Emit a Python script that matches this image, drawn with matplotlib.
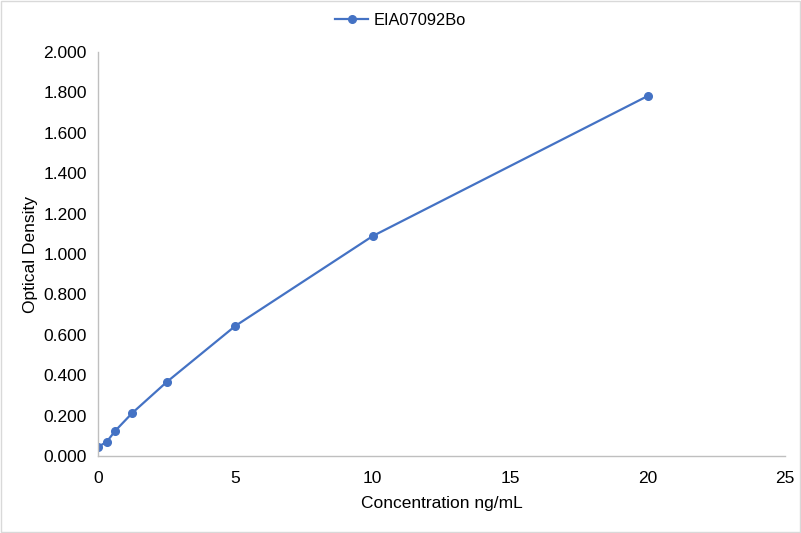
import matplotlib
matplotlib.use("Agg")
from matplotlib import pyplot as plt

# standard curve readings
concentration = [0, 0.3125, 0.625, 1.25, 2.5, 5, 10, 20]
optical_density = [0.045, 0.069, 0.124, 0.213, 0.366, 0.644, 1.089, 1.782]
series_name = "EIA07092Bo"

x_ticks = [0, 5, 10, 15, 20, 25]
y_ticks = [0.0, 0.2, 0.4, 0.6, 0.8, 1.0, 1.2, 1.4, 1.6, 1.8, 2.0]

plt.rcParams['font.family'] = ['Liberation Sans', 'DejaVu Sans']

fig = plt.figure(figsize=(8.01, 5.33), dpi=100)
ax = fig.add_axes([0.1223, 0.1445, 0.8577, 0.7579])

line_color = "#4472C4"
ax.plot(concentration, optical_density, color=line_color, linewidth=1.6,
        marker="o", markersize=5.5, label=series_name)

ax.set_xlim(0, 25)
ax.set_ylim(0, 2.0)
ax.set_xticks(x_ticks)
ax.set_yticks(y_ticks)
ax.set_yticklabels([f"{v:.3f}" for v in y_ticks])

for side in ["top", "right"]:
    ax.spines[side].set_visible(False)
for side in ["left", "bottom"]:
    ax.spines[side].set_color("#BFBFBF")
    ax.spines[side].set_linewidth(1)
ax.tick_params(axis="both", length=0, labelsize=12.5, colors="#000000")
ax.tick_params(axis="y", pad=8)
ax.tick_params(axis="x", pad=11)

ax.set_xlabel("Concentration ng/mL", fontsize=12.5, labelpad=7)
ax.set_ylabel("Optical Density", fontsize=12.5, labelpad=4)

fig.legend(*ax.get_legend_handles_labels(), loc="center",
           bbox_to_anchor=(0.5, 0.962), frameon=False,
           fontsize=11.8, handlelength=2.0, handletextpad=0.3)

# light frame around the chart area
fig.patches.append(plt.Rectangle((0.001, 0.001), 0.998, 0.998, transform=fig.transFigure,
                                 fill=False, edgecolor="#D9D9D9", linewidth=1))

fig.savefig("out.png", dpi=100)
